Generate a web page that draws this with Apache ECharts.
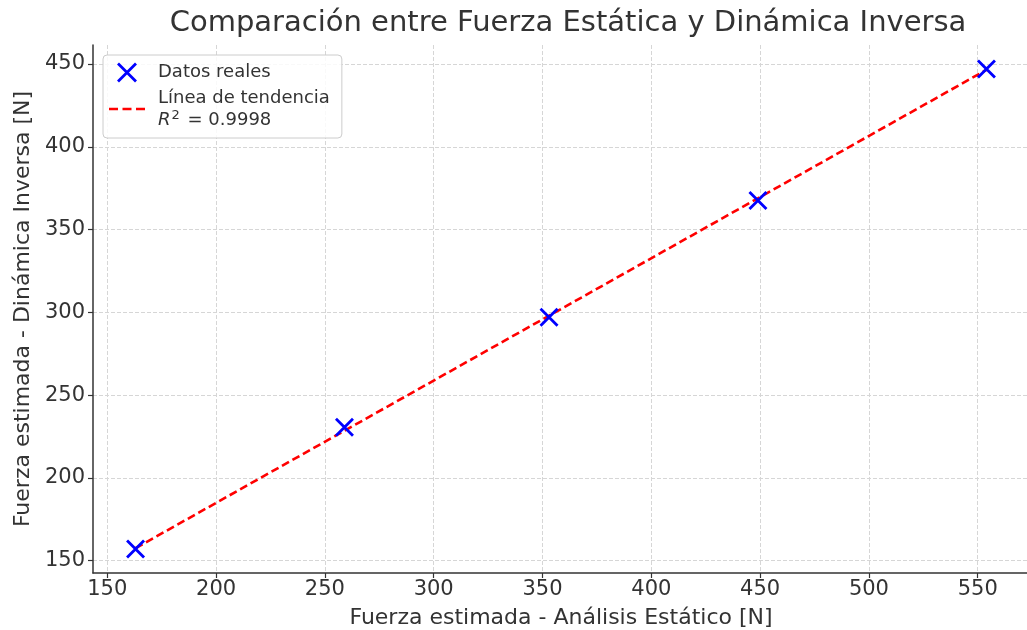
<!DOCTYPE html>
<html>
<head>
<meta charset="utf-8">
<script src="https://cdn.jsdelivr.net/npm/echarts@6/dist/echarts.min.js"></script>
<style>
  html, body { margin: 0; padding: 0; background: #fff; }
  #chart { width: 1027px; height: 630px; }
</style>
</head>
<body>
<div id="chart"></div>
<script>
// Measured forces: static analysis (x) vs inverse dynamics (y), in newtons
const fuerzaEstatica = [163, 259, 353, 449, 554];
const fuerzaDinamica = [157, 230.5, 297, 367.5, 447];

// Fitted trend line endpoints
const tendenciaX = [163, 554];
const tendenciaY = [157.5, 446.5];

// Tick values on each axis
const xTicks = [150, 200, 250, 300, 350, 400, 450, 500, 550];
const yTicks = [150, 200, 250, 300, 350, 400, 450];

const textColor = '#333333';
const font = 'DejaVu Sans';

const chart = echarts.init(document.getElementById('chart'), null, { renderer: 'canvas' });

// Cross marker and a three-dash line used in the legend
const xMarker = 'path://M0,0L10,10M10,0L0,10';
const dashIcon = 'path://M0,0h9v2.6h-9z M13.5,0h9v2.6h-9z M27,0h9v2.6h-9z';

chart.setOption({
  animation: false,
  backgroundColor: '#ffffff',
  textStyle: { fontFamily: font, color: textColor },
  title: {
    text: 'Comparación entre Fuerza Estática y Dinámica Inversa',
    left: 563, top: 4, textAlign: 'center',
    textStyle: { fontFamily: font, fontSize: 29, fontWeight: 'normal', color: textColor }
  },
  grid: { left: 93, top: 45, width: 936, height: 528, containLabel: false, outerBoundsMode: 'none' },
  legend: {
    orient: 'vertical',
    left: 103, top: 55,
    padding: [6, 12, 9, 6],
    itemGap: 5,
    itemWidth: 36, itemHeight: 18,
    backgroundColor: 'rgba(255,255,255,0.85)',
    borderColor: '#cccccc', borderWidth: 1, borderRadius: 4,
    textStyle: {
      fontFamily: font, fontSize: 18, color: textColor, padding: [0, 0, 0, 8],
      rich: {
        t: { fontFamily: font, fontSize: 18, color: textColor, lineHeight: 22 },
        i: { fontFamily: font, fontSize: 18, fontStyle: 'italic', color: textColor, lineHeight: 22 },
        s: { fontFamily: font, fontSize: 13, color: textColor, verticalAlign: 'top', lineHeight: 22, padding: [0, 2, 0, 1] }
      }
    },
    formatter: function (name) {
      if (name === 'Línea de tendencia') {
        return '{t|Línea de tendencia}\n{i|R}{s|2}{t| = 0.9998}';
      }
      return name;
    },
    data: [
      { name: 'Datos reales', icon: xMarker, itemStyle: { color: 'none', borderColor: '#0000ff', borderWidth: 2.8 } },
      { name: 'Línea de tendencia', icon: dashIcon, itemStyle: { color: '#ff0000', borderWidth: 0 } }
    ]
  },
  xAxis: {
    type: 'value',
    min: 143.45, max: 573.55,
    name: 'Fuerza estimada - Análisis Estático [N]',
    nameLocation: 'middle', nameGap: 34,
    nameTextStyle: { fontFamily: font, fontSize: 22, color: textColor },
    axisLine: { show: true, onZero: false, lineStyle: { color: '#333333', width: 1.5 } },
    axisTick: { show: true, length: 5, customValues: xTicks, lineStyle: { color: '#333333', width: 1.2 } },
    axisLabel: { customValues: xTicks, margin: 6, fontFamily: font, fontSize: 21, color: textColor },
    splitLine: { show: true, lineStyle: { color: '#d6d6d6', width: 1, type: [4, 2] } }
  },
  yAxis: {
    type: 'value',
    min: 142.5, max: 461.5,
    name: 'Fuerza estimada - Dinámica Inversa [N]',
    nameLocation: 'middle', nameGap: 56, nameRotate: 90,
    nameTextStyle: { fontFamily: font, fontSize: 22, color: textColor },
    axisLine: { show: true, onZero: false, lineStyle: { color: '#333333', width: 1.5 } },
    axisTick: { show: true, length: 5, customValues: yTicks, lineStyle: { color: '#333333', width: 1.2 } },
    axisLabel: { customValues: yTicks, margin: 8, fontFamily: font, fontSize: 21, color: textColor },
    splitLine: { show: true, lineStyle: { color: '#d6d6d6', width: 1, type: [4, 2] } }
  },
  series: [
    {
      name: 'Línea de tendencia',
      type: 'line',
      data: tendenciaX.map((x, i) => [x, tendenciaY[i]]),
      symbol: 'none',
      lineStyle: { color: '#ff0000', width: 2.6, type: [8, 4] },
      itemStyle: { color: '#ff0000' },
      z: 2
    },
    {
      name: 'Datos reales',
      type: 'scatter',
      data: fuerzaEstatica.map((x, i) => [x, fuerzaDinamica[i]]),
      symbol: xMarker,
      symbolSize: 17,
      itemStyle: { color: 'none', borderColor: '#0000ff', borderWidth: 2.8, opacity: 1 },
      z: 3
    }
  ]
});
</script>
</body>
</html>
